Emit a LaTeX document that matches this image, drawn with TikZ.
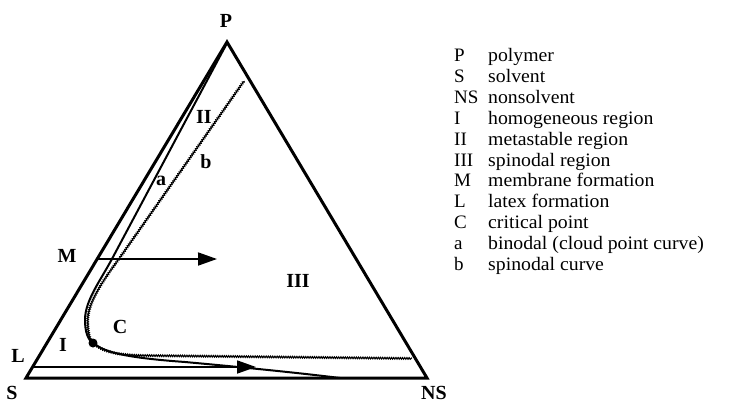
\documentclass[tikz,border=0pt]{standalone}
\usepackage{fontspec}
\setmainfont{Liberation Serif}
\usetikzlibrary{arrows.meta,decorations.pathmorphing,calc}
\begin{document}
\begin{tikzpicture}[x=1pt,y=-1pt,
  edge/.style={line width=3pt,line join=miter},
  binodal/.style={line width=2pt},
  spinodal/.style={line width=1.1pt,decorate,decoration={snake,amplitude=0.8pt,segment length=2.2pt}},
  flow/.style={line width=1.8pt,-{Triangle[length=19pt,width=13pt]}},
  lab/.style={font=\fontsize{20}{22}\selectfont\bfseries,inner sep=0pt},
  leg/.style={font=\fontsize{19}{21}\selectfont,inner sep=0pt,anchor=base west}]
\useasboundingbox (0,0) rectangle (731,404);
\coordinate (P) at (227,42);
\coordinate (S) at (26,378);
\coordinate (N) at (427,378);
\draw[edge] (S) -- (P) -- (N) -- cycle;
% binodal a
\draw[binodal] (226,45) -- (113,257)
  .. controls (101,280) and (85,300) .. (85,320)
  .. controls (85,332) and (88,340) .. (93,343)
  .. controls (105,353) and (130,358) .. (185,362)
  .. controls (240,367) and (300,373) .. (340,378);
% spinodal b
\draw[spinodal] (244,81) -- (121,256)
  .. controls (108,274) and (88,300) .. (88,320)
  .. controls (88,333) and (90,340) .. (94,343)
  .. controls (103,351) and (115,354) .. (140,355)
  -- (412,358);
\fill (93,343) circle (4.5pt);
% arrows
\coordinate (Mp) at ($(S)!0.354!(P)$);
\coordinate (Lp) at (33,367);
\coordinate (Mend) at (217,259);
\coordinate (Lend) at (256,367);
\draw[flow] (Mp) -- (Mend);
\draw[flow] (Lp) -- (Lend);
% labels
\node[lab] (lP) at (226,21) {P};
\node[lab] (lS) at (12,393) {S};
\node[lab] (lNS) at (434,393) {NS};
\node[lab] (lM) at (67,256) {M};
\node[lab] (lL) at (18,356) {L};
\node[lab] (lI) at (63,345) {I};
\node[lab] (lC) at (120,327) {C};
\node[lab] (lIII) at (298,281) {III};
\node[lab] (lII) at (204,117) {II};
\node[lab] (lb) at (206,162) {b};
\node[lab] (la) at (161,181) {a};
% legend
\foreach \s/\t [count=\i from 0] in {P/polymer,S/solvent,NS/nonsolvent,I/homogeneous region,II/metastable region,III/spinodal region,M/membrane formation,L/latex formation,C/critical point,a/binodal (cloud point curve),b/spinodal curve}{
  \node[leg] (ks\i) at (454,62+20.8*\i) {\s};
  \node[leg] (kt\i) at (488,62+20.8*\i) {\scalebox{1.04}[1]{\t}};
}
\end{tikzpicture}
\end{document}
